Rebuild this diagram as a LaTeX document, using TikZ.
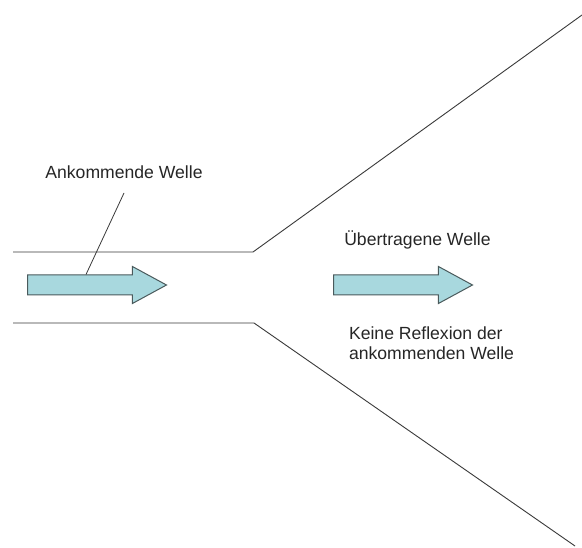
\documentclass[tikz,border=0pt]{standalone}
\usepackage{fontspec}
\setmainfont{Liberation Sans}
\usetikzlibrary{shapes.arrows, positioning}
\definecolor{wavecyan}{HTML}{A8D8DE}
\definecolor{waveedge}{HTML}{4A5A5C}
\definecolor{waveline}{HTML}{3A3A3A}
\definecolor{wavetext}{HTML}{262626}

\begin{document}
\begin{tikzpicture}[x=1pt,y=-1pt,font=\fontsize{17.6}{20}\selectfont,text=wavetext,
    wavearrow/.style={single arrow,draw=waveedge,fill=wavecyan,line width=1pt,minimum height=139pt,minimum width=36pt,single arrow head extend=8.5pt,single arrow tip angle=57,inner xsep=0pt,inner ysep=9.5pt,anchor=tail},
    duct/.style={waveline,line width=0.9pt},
    leader/.style={waveline,line width=0.8pt}]
        \useasboundingbox[fill=white] (0,0) rectangle (582,548);
        % waveguide walls
        \draw[duct] (13,252) -- (253,252) -- (582,15);
        \draw[duct] (13,323) -- (254,323) -- (575,546);
        % block arrows
        \node[wavearrow] (inA) at (27,285) {};
        \node[wavearrow] (outA) at (333,285) {};
        % labels
        \node (lblIn) at (124,172) {Ankommende Welle};
        \node (lblOut) at (417.5,240) {Übertragene Welle};
        \node[anchor=west,align=left] (lblNoRefl) at (345.5,343) {Keine Reflexion der\\ankommenden Welle};
        \coordinate (inLeg) at (86,274.5);
        \draw[leader] ([yshift=-11pt]lblIn.south) -- (inLeg);
      \end{tikzpicture}
\end{document}
